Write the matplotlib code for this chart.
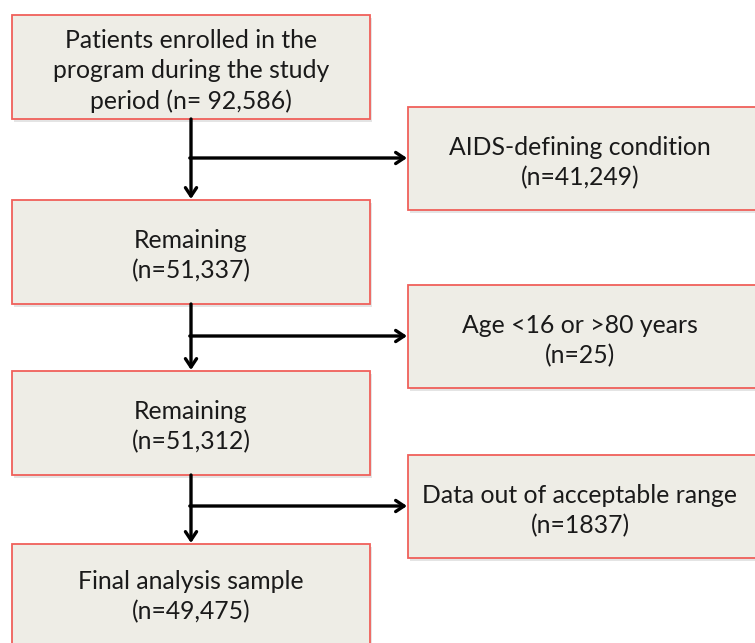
import matplotlib.pyplot as plt
from matplotlib.patches import Rectangle

# main column boxes: label, top, bottom (pixels)
main_labels = ["Patients enrolled in the\nprogram during the study\nperiod (n= 92,586)",
               "Remaining\n(n=51,337)",
               "Remaining\n(n=51,312)",
               "Final analysis sample\n(n=49,475)"]
main_top = [15, 200, 371, 544]
main_bot = [119, 304, 475, 660]

# exclusion boxes on the right
excl_labels = ["AIDS-defining condition\n(n=41,249)",
               "Age <16 or >80 years\n(n=25)",
               "Data out of acceptable range\n(n=1837)"]
excl_top = [107, 285, 455]
excl_bot = [210, 388, 558]
excl_arrow_y = [158, 336, 506]

fill = '#eeede6'
edge = '#f0605a'
font = 'Lato'

fig = plt.figure(figsize=(7.55, 6.43), dpi=100)
ax = fig.add_axes([0, 0, 1, 1])
ax.set_xlim(0, 755)
ax.set_ylim(643, 0)
ax.axis('off')

def box(x0, x1, y0, y1, label, cx, cy):
    # faint shadow
    ax.add_patch(Rectangle((x0 + 2, y0 + 3), x1 - x0, y1 - y0, facecolor='#e4e4e4',
                           edgecolor='none', zorder=1))
    ax.add_patch(Rectangle((x0, y0), x1 - x0, y1 - y0, facecolor=fill,
                           edgecolor=edge, linewidth=1.3, zorder=2))
    ax.text(cx, cy, label, ha='center', va='center', fontsize=17.8,
            family=font, color='#1a1a1a', linespacing=1.35, zorder=3)

for i, lab in enumerate(main_labels):
    if i == 3:
        cy = 597
    else:
        cy = (main_top[i] + main_bot[i]) / 2 + 4
    box(12, 370, main_top[i], main_bot[i], lab, 191, cy)

for i, lab in enumerate(excl_labels):
    box(408, 770, excl_top[i], excl_bot[i], lab, 580, (excl_top[i] + excl_bot[i]) / 2 + 4)

lw = 2.4
for i in range(3):
    # vertical arrow
    ax.annotate('', xy=(191, main_top[i + 1] - 1), xytext=(191, main_bot[i]),
                arrowprops=dict(arrowstyle='->,head_length=0.6,head_width=0.4',
                                color='black', lw=lw, shrinkA=0, shrinkB=0), zorder=4)
    # horizontal arrow
    ax.annotate('', xy=(407, excl_arrow_y[i]), xytext=(191 - lw / 2, excl_arrow_y[i]),
                arrowprops=dict(arrowstyle='->,head_length=0.6,head_width=0.4',
                                color='black', lw=lw, shrinkA=0, shrinkB=0), zorder=4)

fig.savefig('out.png', dpi=100, facecolor='white')
